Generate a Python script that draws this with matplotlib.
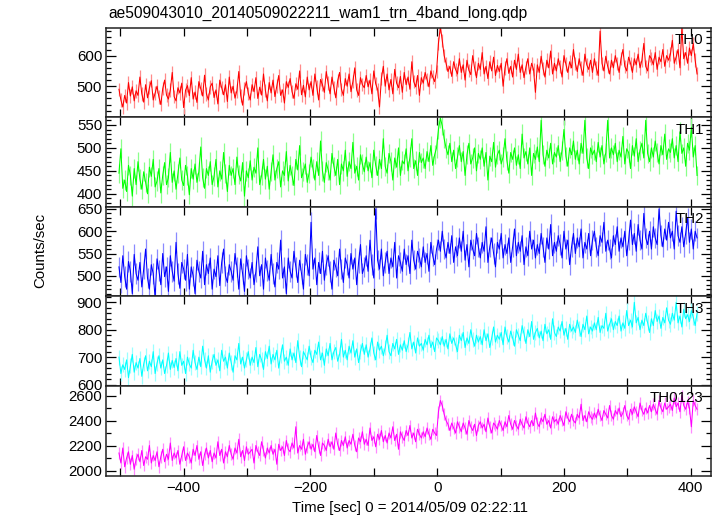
import numpy as np
import matplotlib
matplotlib.use("Agg")
import matplotlib.pyplot as plt
from matplotlib.ticker import FixedLocator, MultipleLocator, NullFormatter

plt.rcParams['font.family'] = ['Liberation Sans', 'DejaVu Sans']

title = "ae509043010_20140509022211_wam1_trn_4band_long.qdp"
xlabel = "Time [sec] 0 = 2014/05/09 02:22:11"
ylabel = "Counts/sec"

# time bins (s), 3 s spacing
t_start, t_stop, t_step = -502, 410, 3
time = np.arange(t_start, t_stop + 1, t_step)

th0 = [490, 455, 432, 470, 445, 512, 468, 498, 452, 485,
       470, 530, 475, 448, 505, 462, 495, 518, 455, 478,
       500, 465, 440, 492, 520, 471, 458, 488, 545, 466,
       452, 495, 478, 510, 430, 487, 502, 469, 528, 458,
       481, 447, 515, 492, 468, 536, 475, 455, 498, 510,
       463, 488, 442, 520, 495, 472, 505, 450, 530, 478,
       500, 461, 485, 548, 470, 438, 492, 515, 476, 455,
       505, 482, 528, 460, 497, 471, 540, 486, 452, 512,
       478, 520, 466, 501, 535, 470, 488, 445, 515, 496,
       525, 482, 460, 508, 490, 550, 472, 503, 465, 530,
       488, 515, 470, 540, 498, 455, 522, 505, 480, 548,
       510, 475, 530, 495, 462, 518, 545, 490, 470, 525,
       500, 540, 482, 515, 560, 488, 470, 528, 505, 495,
       535, 498, 520, 475, 550, 508, 490, 432, 525, 565,
       500, 540, 488, 522, 475, 555, 510, 495, 532, 480,
       545, 505, 530, 490, 580, 515, 498, 535, 470, 528,
       510, 545, 522, 498, 550, 530, 515, 548, 640, 695,
       650, 600, 575, 548, 565, 532, 580, 555, 540, 590,
       545, 570, 520, 585, 552, 538, 600, 560, 528, 575,
       555, 610, 540, 565, 525, 580, 550, 595, 535, 568,
       548, 575, 500, 560, 590, 542, 565, 530, 585, 555,
       605, 545, 570, 528, 562, 590, 540, 575, 555, 480,
       570, 545, 598, 558, 530, 585, 560, 615, 540, 575,
       550, 590, 565, 530, 600, 572, 545, 580, 560, 620,
       575, 548, 590, 560, 535, 605, 570, 555, 585, 545,
       590, 560, 535, 680, 575, 550, 598, 565, 540, 585,
       560, 600, 575, 545, 590, 620, 565, 550, 595, 575,
       545, 590, 570, 605, 560, 585, 640, 565, 550, 600,
       590, 570, 610, 555, 595, 580, 620, 565, 600, 585,
       605, 650, 575, 595, 620, 560, 690, 590, 610, 575,
       625, 600, 640, 585, 540]

th1 = [445, 498, 412, 430, 405, 462, 440, 395, 455, 420,
       470, 432, 410, 448, 425, 400, 458, 438, 475, 415,
       428, 455, 402, 440, 468, 420, 435, 490, 425, 450,
       410, 445, 478, 430, 418, 462, 440, 398, 455, 432,
       465, 425, 448, 502, 435, 412, 455, 440, 470, 420,
       438, 475, 415, 450, 432, 490, 445, 405, 462, 440,
       455, 420, 480, 442, 428, 468, 395, 450, 435, 472,
       430, 458, 445, 500, 420, 440, 475, 432, 460, 410,
       448, 485, 430, 455, 470, 415, 450, 440, 492, 428,
       462, 440, 418, 475, 452, 505, 435, 448, 465, 425,
       445, 480, 455, 430, 470, 440, 515, 450, 425, 468,
       452, 430, 488, 460, 440, 475, 420, 465, 450, 495,
       438, 470, 455, 512, 445, 460, 430, 485, 465, 448,
       480, 450, 468, 435, 495, 462, 440, 475, 455, 520,
       460, 445, 488, 470, 430, 478, 458, 500, 440, 472,
       465, 498, 450, 480, 520, 455, 472, 440, 490, 468,
       478, 455, 492, 470, 505, 462, 485, 500, 540, 565,
       548, 520, 500, 485, 510, 470, 495, 455, 480, 505,
       470, 492, 440, 485, 510, 465, 478, 500, 450, 488,
       475, 500, 460, 490, 430, 482, 470, 512, 458, 485,
       495, 465, 480, 520, 472, 445, 490, 475, 500, 462,
       485, 455, 530, 478, 492, 465, 500, 440, 488, 475,
       502, 470, 560, 485, 460, 495, 478, 510, 465, 490,
       480, 505, 470, 495, 540, 482, 460, 500, 485, 515,
       475, 495, 465, 510, 488, 560, 478, 455, 500, 485,
       495, 470, 512, 480, 505, 465, 490, 560, 478, 500,
       485, 510, 470, 495, 480, 525, 465, 498, 490, 455,
       505, 482, 520, 470, 495, 510, 478, 560, 488, 470,
       500, 480, 515, 490, 465, 505, 485, 530, 475, 498,
       490, 520, 478, 505, 470, 535, 488, 500, 460, 510,
       495, 545, 480, 505, 440]

th2 = [520, 485, 545, 498, 470, 532, 510, 460, 548, 505,
       490, 530, 475, 515, 560, 495, 470, 525, 505, 450,
       538, 512, 480, 550, 498, 520, 465, 545, 510, 488,
       575, 505, 472, 530, 515, 490, 548, 470, 520, 500,
       460, 535, 510, 495, 555, 480, 525, 505, 540, 470,
       515, 498, 545, 478, 530, 560, 500, 485, 525, 510,
       490, 550, 520, 470, 538, 505, 465, 545, 515, 495,
       530, 480, 510, 565, 500, 525, 470, 540, 512, 490,
       548, 505, 475, 530, 515, 580, 495, 520, 460, 540,
       510, 495, 555, 520, 485, 535, 505, 470, 548, 525,
       500, 620, 515, 540, 480, 530, 505, 555, 490, 525,
       545, 510, 470, 535, 520, 500, 560, 515, 485, 540,
       525, 495, 550, 515, 540, 480, 530, 570, 505, 520,
       545, 510, 580, 525, 495, 650, 535, 515, 560, 500,
       530, 555, 505, 540, 520, 575, 495, 545, 530, 510,
       560, 525, 545, 505, 580, 535, 515, 555, 540, 520,
       565, 530, 550, 510, 575, 545, 525, 560, 580, 555,
       600, 560, 540, 575, 550, 590, 530, 565, 545, 585,
       555, 600, 535, 570, 520, 580, 560, 545, 595, 565,
       540, 575, 555, 610, 530, 565, 585, 550, 520, 575,
       560, 595, 540, 570, 550, 585, 530, 565, 605, 545,
       575, 555, 590, 525, 565, 545, 600, 560, 580, 540,
       570, 550, 595, 565, 530, 585, 560, 615, 545, 575,
       555, 590, 570, 540, 600, 560, 580, 525, 565, 595,
       550, 585, 565, 605, 540, 575, 560, 595, 545, 580,
       600, 565, 545, 590, 575, 620, 555, 580, 560, 540,
       590, 570, 610, 555, 585, 565, 600, 545, 580, 625,
       570, 595, 555, 615, 580, 560, 640, 585, 570, 600,
       560, 610, 585, 570, 650, 590, 565, 605, 580, 620,
       585, 600, 560, 645, 590, 575, 610, 565, 595, 630,
       575, 605, 560, 600, 585]

th3 = [700, 640, 672, 655, 690, 625, 668, 710, 645, 680,
       660, 695, 630, 675, 705, 650, 685, 665, 720, 640,
       678, 705, 660, 690, 640, 670, 715, 655, 688, 662,
       695, 650, 720, 670, 685, 640, 700, 675, 660, 725,
       680, 655, 700, 665, 740, 690, 660, 705, 645, 685,
       710, 670, 690, 650, 725, 685, 700, 660, 715, 680,
       645, 705, 690, 750, 675, 700, 660, 690, 720, 670,
       700, 680, 735, 665, 710, 690, 655, 720, 695, 740,
       675, 710, 690, 725, 660, 705, 745, 685, 700, 670,
       730, 690, 715, 680, 760, 700, 665, 720, 705, 690,
       740, 700, 680, 725, 710, 755, 690, 715, 670, 730,
       705, 750, 690, 720, 735, 685, 710, 765, 700, 725,
       690, 740, 715, 760, 700, 730, 680, 720, 750, 710,
       745, 700, 730, 770, 715, 690, 755, 725, 740, 705,
       735, 780, 720, 705, 750, 730, 765, 710, 745, 725,
       760, 720, 745, 790, 730, 755, 715, 770, 740, 750,
       725, 765, 745, 780, 735, 755, 720, 770, 760, 745,
       775, 740, 765, 730, 785, 750, 770, 745, 720, 780,
       760, 790, 735, 770, 750, 800, 765, 740, 780, 755,
       775, 745, 800, 760, 785, 735, 770, 810, 755, 780,
       765, 790, 745, 810, 775, 755, 795, 770, 740, 800,
       780, 760, 815, 785, 750, 800, 775, 830, 765, 790,
       805, 770, 795, 760, 820, 785, 800, 765, 840, 790,
       775, 810, 795, 830, 780, 805, 765, 820, 795, 810,
       790, 835, 805, 775, 820, 800, 850, 785, 810, 795,
       825, 800, 845, 790, 815, 805, 860, 795, 820, 840,
       800, 830, 815, 850, 795, 825, 805, 870, 815, 835,
       810, 900, 825, 845, 800, 835, 815, 860, 825, 790,
       840, 815, 870, 830, 850, 805, 845, 825, 880, 835,
       820, 860, 835, 900, 825, 850, 810, 875, 840, 855,
       830, 870, 845, 815, 860]

th0123 = [2140, 2060, 2180, 2030, 2100, 2150, 2050, 2120, 2010, 2090,
          2130, 2070, 2160, 2040, 2110, 2090, 2200, 2060, 2120, 2080,
          2150, 2030, 2110, 2170, 2070, 2130, 2090, 2220, 2080, 2140,
          2100, 2160, 2050, 2120, 2190, 2080, 2140, 2110, 2060, 2170,
          2120, 2200, 2090, 2150, 2040, 2130, 2180, 2100, 2160, 2070,
          2140, 2100, 2230, 2120, 2170, 2060, 2150, 2110, 2200, 2130,
          2090, 2180, 2140, 2250, 2110, 2160, 2080, 2190, 2130, 2150,
          2170, 2060, 2200, 2150, 2120, 2230, 2160, 2100, 2180, 2140,
          2200, 2130, 2170, 2050, 2210, 2160, 2190, 2120, 2240, 2170,
          2150, 2220, 2180, 2350, 2140, 2200, 2170, 2250, 2130, 2190,
          2230, 2170, 2210, 2150, 2280, 2190, 2120, 2220, 2200, 2160,
          2250, 2190, 2230, 2170, 2300, 2210, 2160, 2240, 2200, 2270,
          2180, 2240, 2210, 2290, 2200, 2150, 2260, 2230, 2310, 2210,
          2250, 2200, 2340, 2240, 2270, 2190, 2290, 2250, 2320, 2230,
          2280, 2220, 2300, 2260, 2350, 2240, 2290, 2170, 2310, 2270,
          2240, 2320, 2280, 2360, 2260, 2300, 2230, 2330, 2290, 2260,
          2310, 2270, 2340, 2290, 2250, 2330, 2300, 2280, 2470, 2560,
          2520, 2450, 2400, 2370, 2320, 2380, 2340, 2300, 2390, 2350,
          2310, 2380, 2340, 2290, 2400, 2350, 2320, 2370, 2280, 2360,
          2390, 2340, 2370, 2310, 2420, 2350, 2300, 2380, 2360, 2330,
          2400, 2360, 2320, 2390, 2350, 2440, 2370, 2330, 2400, 2360,
          2330, 2410, 2370, 2340, 2430, 2380, 2350, 2400, 2360, 2460,
          2380, 2350, 2420, 2390, 2450, 2370, 2400, 2340, 2430, 2390,
          2410, 2370, 2440, 2400, 2360, 2470, 2420, 2390, 2450, 2400,
          2380, 2450, 2420, 2530, 2400, 2440, 2390, 2470, 2430, 2410,
          2460, 2420, 2490, 2440, 2400, 2480, 2450, 2420, 2520, 2440,
          2410, 2480, 2450, 2500, 2430, 2460, 2520, 2440, 2410, 2490,
          2450, 2510, 2470, 2430, 2540, 2480, 2450, 2500, 2460, 2520,
          2470, 2530, 2490, 2450, 2560, 2500, 2470, 2540, 2490, 2510,
          2530, 2480, 2580, 2510, 2540, 2470, 2600, 2520, 2490, 2550,
          2500, 2350, 2560, 2520, 2490]

# typical 1-sigma error bar size per band (counts/sec)
errs = [22, 21, 23, 27, 47]

names = ["TH0", "TH1", "TH2", "TH3", "TH0123"]
series = [th0, th1, th2, th3, th0123]
colors = ["#ff0000", "#00ff00", "#0000ff", "#00ffff", "#ff00ff"]
light = ["#ff8a8a", "#8aff8a", "#8a8aff", "#9affff", "#ff8aff"]
ylims = [(399, 692), (372, 567), (454, 655), (595, 922), (1960, 2677)]
yticks = [[500, 600], [400, 450, 500, 550], [500, 550, 600, 650],
          [600, 700, 800, 900], [2000, 2200, 2400, 2600]]
yminor = [20, 10, 10, 20, 100]
xlim = (-522, 432)

fig = plt.figure(figsize=(7.17, 5.16), dpi=100)
W, H = 717, 516
left, right = 106.3 / W, 711 / W
top_px, bot_px = 27.5, 475.5
ph = (bot_px - top_px) / 5

axes = []
for k in range(5):
    y0 = 1 - (top_px + (k + 1) * ph) / H
    ax = fig.add_axes([left, y0, right - left, ph / H])
    ax.errorbar(time, series[k], yerr=errs[k], fmt='none', ecolor=light[k],
                elinewidth=0.9, capsize=0)
    ax.plot(time, series[k], color=colors[k], lw=0.75)
    ax.set_xlim(*xlim)
    ax.set_ylim(*ylims[k])
    ax.yaxis.set_major_locator(FixedLocator(yticks[k]))
    ax.yaxis.set_minor_locator(MultipleLocator(yminor[k]))
    ax.xaxis.set_major_locator(MultipleLocator(200))
    ax.xaxis.set_minor_locator(MultipleLocator(100))
    ax.tick_params(axis='both', which='both', direction='in', top=True, right=True,
                   labelsize=10.8, colors='black', width=0.9)
    ax.tick_params(axis='y', which='major', length=7, pad=3)
    ax.tick_params(axis='y', which='minor', length=3.5)
    ax.tick_params(axis='x', which='major', length=6, pad=4)
    ax.tick_params(axis='x', which='minor', length=6)
    for s in ax.spines.values():
        s.set_linewidth(1.1)
        s.set_color('#222222')
        s.set_zorder(5)
    if k < 4:
        ax.xaxis.set_major_formatter(NullFormatter())
    ax.text(0.988, 0.86, names[k], transform=ax.transAxes, ha='right', va='center',
            fontsize=10.8, color='black', zorder=6)
    axes.append(ax)

fig.text(108 / W, 1 - 13 / H, title, ha='left', va='center', fontsize=11.2)
fig.text(410 / W, 1 - 508 / H, xlabel, ha='center', va='center', fontsize=10.8)
fig.text(40 / W, 1 - 250 / H, ylabel, ha='center', va='center', rotation=90, fontsize=10.8)

fig.savefig("out.png", dpi=100)
